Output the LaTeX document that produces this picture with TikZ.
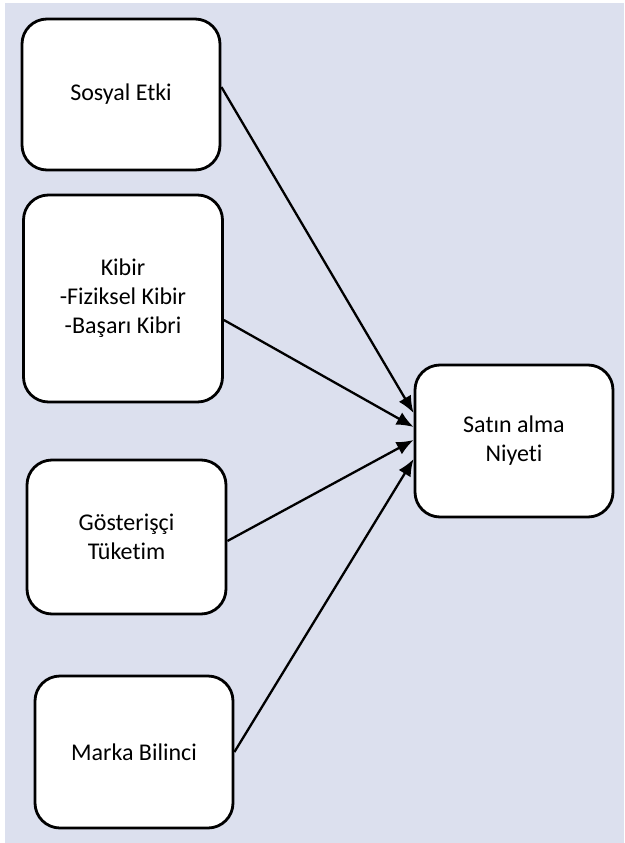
\documentclass[tikz,border=0pt]{standalone}
\usepackage{fontspec}
\setmainfont{Carlito}[Ligatures=NoCommon]
\usepackage{xcolor}
\usepackage{tikz}
\usetikzlibrary{arrows.meta,positioning,calc}
\definecolor{lavender}{RGB}{220,224,238}

\begin{document}
\begin{tikzpicture}[
  x=1pt,y=-1pt,
  every node/.style={font=\fontsize{24}{29}\selectfont,align=center},
  factor/.style={draw=black,fill=white,line width=2.8pt,rounded corners=25pt,minimum width=198pt,minimum height=152pt,inner sep=0pt},
  arr/.style={-{Latex[length=17pt,width=14pt]},line width=2.3pt,color=black}
]
\useasboundingbox (0,0) rectangle (624,843);
\fill[lavender] (5,3) rectangle (624,843);
\node[factor,minimum height=151pt] (social) at (121,94.5) {Sosyal Etki};
\node[factor,minimum width=199pt,minimum height=207pt] (vanity) at (123,298.5) {Kibir\\-Fiziksel Kibir\\-Başarı Kibri};
\node[factor,minimum width=199pt,minimum height=154pt] (conspic) at (126.5,537) {Gösterişçi\\Tüketim};
\node[factor] (brand) at (134,752) {Marka Bilinci};
\node[factor] (intent) at (514,441) {Satın alma\\Niyeti};
\draw[arr] ([yshift=7.5pt]social.east) -- ([yshift=28pt]intent.west);
\draw[arr] ([yshift=-21.5pt]vanity.east) -- ([yshift=14pt]intent.west);
\draw[arr] ([yshift=-4pt]conspic.east) -- ([yshift=1pt]intent.west);
\draw[arr] (brand.east) -- ([yshift=-18pt]intent.west);
\end{tikzpicture}
\end{document}
